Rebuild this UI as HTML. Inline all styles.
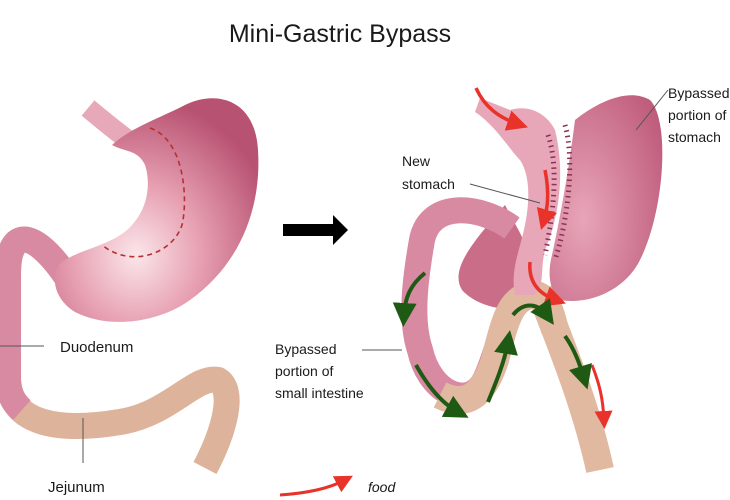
<!DOCTYPE html>
<html><head><meta charset="utf-8"><style>
body{margin:0;background:#fff;width:730px;height:500px;overflow:hidden}
svg{display:block}
text{font-family:"Liberation Sans",sans-serif;fill:#1a1a1a}
</style></head><body>
<svg width="730" height="500" viewBox="0 0 730 500" xmlns="http://www.w3.org/2000/svg">
<defs>
<radialGradient id="pk" cx="0.4" cy="0.7" r="0.7">
<stop offset="0" stop-color="#fbe6ea"/><stop offset="0.45" stop-color="#e7a0b2"/><stop offset="1" stop-color="#b85272"/></radialGradient>
<radialGradient id="pk2" cx="0.3" cy="0.6" r="0.8">
<stop offset="0" stop-color="#e8a5b8"/><stop offset="1" stop-color="#bf5d7d"/></radialGradient>
<marker id="ra" markerWidth="6" markerHeight="6" refX="3" refY="3" orient="auto"><path d="M0,0 L6,3 L0,6 Z" fill="#e8322a"/></marker>
<marker id="ga" markerWidth="6" markerHeight="6" refX="3" refY="3" orient="auto"><path d="M0,0 L6,3 L0,6 Z" fill="#1f5a14"/></marker>
</defs>
<text x="340" y="42" font-size="25" text-anchor="middle">Mini-Gastric Bypass</text>

<!-- LEFT -->
<path d="M75,290 C40,232 8,220 8,275 L8,380 C10,425 60,432 120,422 C170,414 195,375 218,380 C235,390 225,430 205,468" fill="none" stroke="#deb39c" stroke-width="26"/>
<path d="M75,290 C40,232 8,220 8,275 L8,380 C9,395 14,403 22,410" fill="none" stroke="#d88aa3" stroke-width="26"/>
<path d="M88,108 C100,118 112,128 128,140" fill="none" stroke="#e7a9b9" stroke-width="20"/>
<path d="M112,145 C130,128 160,118 185,105 C215,90 255,98 258,150 C262,215 235,268 190,300 C160,322 110,330 75,312 C52,298 50,272 62,262 C82,248 115,245 132,225 C150,205 150,180 145,165 C138,150 125,152 112,145 Z" fill="url(#pk)"/>
<path d="M150,128 C185,140 188,200 182,225 C172,255 130,268 102,245" fill="none" stroke="#b5302e" stroke-width="1.6" stroke-dasharray="5,4"/>
<line x1="0" y1="346" x2="44" y2="346" stroke="#555"/>
<text x="60" y="352" font-size="15">Duodenum</text>
<line x1="83" y1="418" x2="83" y2="463" stroke="#555"/>
<text x="48" y="492" font-size="15">Jejunum</text>
<path d="M283,224 L333,224 L333,215 L348,230 L333,245 L333,236 L283,236 Z" fill="#000"/>

<!-- RIGHT -->
<path d="M540,290 C555,330 585,400 600,470" fill="none" stroke="#e0b9a0" stroke-width="28"/>
<path d="M505,205 C515,225 540,260 535,300 C520,315 480,310 462,290 C450,270 470,245 505,205 Z" fill="#c96d89"/>
<path d="M512,228 C480,205 430,200 422,240 C415,280 410,320 420,350 C430,395 470,410 485,380 C500,350 505,300 530,295" fill="none" stroke="#d98aa3" stroke-width="26"/>
<path d="M440,395 C470,410 485,390 495,360 C505,320 510,300 530,295 C545,292 550,310 555,330" fill="none" stroke="#e0b9a0" stroke-width="28"/>
<path d="M575,120 C600,100 630,88 650,100 C670,120 665,210 640,260 C625,290 590,305 560,300 C548,290 548,270 552,255 C562,210 570,160 575,120 Z" fill="url(#pk2)"/>
<path d="M475,112 L480,98 L510,110 C525,105 545,110 555,130 C565,170 560,215 545,250 C540,270 545,285 535,295 L515,295 C510,270 520,250 525,225 C530,200 530,175 520,160 C510,150 495,125 475,112 Z" fill="#e8a7b9"/>
<path d="M565,125 C575,160 568,220 555,260" fill="none" stroke="#8a3355" stroke-width="5" stroke-dasharray="1.5,4"/>
<path d="M548,135 C560,170 552,220 545,255" fill="none" stroke="#8a3355" stroke-width="5" stroke-dasharray="1.5,4"/>
<path d="M476,88 C485,108 500,118 518,124" fill="none" stroke="#e8322a" stroke-width="3.5" marker-end="url(#ra)"/>
<path d="M545,170 C550,195 547,210 544,220" fill="none" stroke="#e8322a" stroke-width="3.5" marker-end="url(#ra)"/>
<path d="M530,262 C528,285 542,295 556,300" fill="none" stroke="#e8322a" stroke-width="3.5" marker-end="url(#ra)"/>
<path d="M592,365 C600,385 603,400 604,420" fill="none" stroke="#e8322a" stroke-width="3" marker-end="url(#ra)"/>
<path d="M425,273 C410,285 405,298 404,315" fill="none" stroke="#1f5a14" stroke-width="4" marker-end="url(#ga)"/>
<path d="M416,365 C430,390 445,405 458,412" fill="none" stroke="#1f5a14" stroke-width="4" marker-end="url(#ga)"/>
<path d="M488,402 C497,380 505,360 508,342" fill="none" stroke="#1f5a14" stroke-width="4" marker-end="url(#ga)"/>
<path d="M513,315 C525,300 540,305 547,315" fill="none" stroke="#1f5a14" stroke-width="4" marker-end="url(#ga)"/>
<path d="M565,336 C575,350 580,365 584,378" fill="none" stroke="#1f5a14" stroke-width="4" marker-end="url(#ga)"/>
<text x="402" y="166" font-size="14">New</text>
<text x="402" y="189" font-size="14">stomach</text>
<line x1="470" y1="184" x2="540" y2="203" stroke="#555"/>
<text x="668" y="98" font-size="14">Bypassed</text>
<text x="668" y="120" font-size="14">portion of</text>
<text x="668" y="142" font-size="14">stomach</text>
<line x1="668" y1="90" x2="636" y2="130" stroke="#555"/>
<text x="275" y="354" font-size="14">Bypassed</text>
<text x="275" y="376" font-size="14">portion of</text>
<text x="275" y="398" font-size="14">small intestine</text>
<line x1="362" y1="350" x2="402" y2="350" stroke="#555"/>
<path d="M280,495 C310,493 330,488 345,480" fill="none" stroke="#e8322a" stroke-width="3" marker-end="url(#ra)"/>
<text x="368" y="492" font-size="14" font-style="italic">food</text>
</svg>
</body></html>
